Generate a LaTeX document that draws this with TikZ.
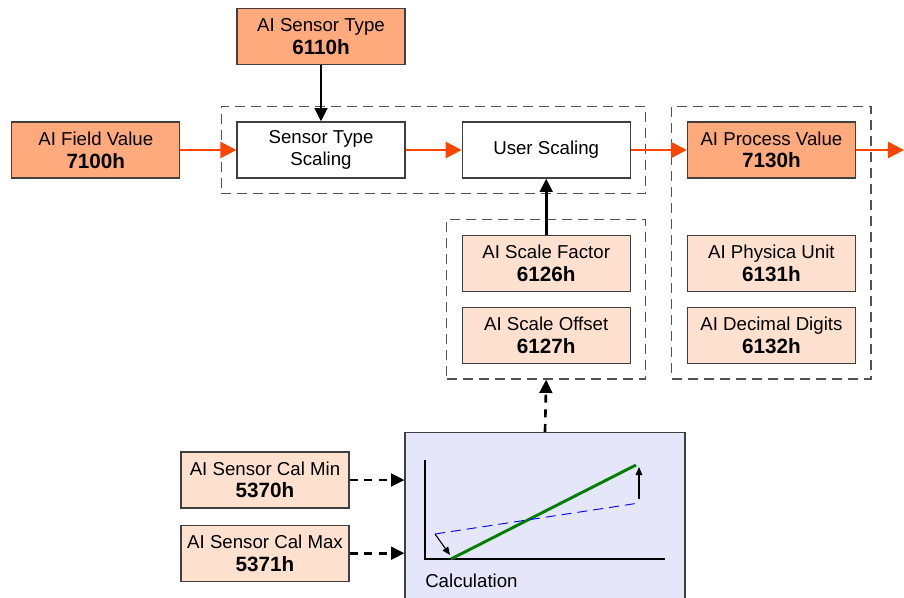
\documentclass[tikz,border=0pt]{standalone}
\usepackage{fontspec}
\setmainfont{Liberation Sans}
\usetikzlibrary{arrows.meta,positioning,fit}
\definecolor{darkfill}{RGB}{255,170,125}
\definecolor{lightfill}{RGB}{253,224,206}
\definecolor{calcfill}{RGB}{230,230,250}
\definecolor{flowred}{RGB}{255,69,0}
\definecolor{edgegray}{RGB}{64,64,64}
\definecolor{linegreen}{RGB}{0,128,0}
\newcommand{\regnum}[1]{{\fontsize{15.5}{17}\selectfont\textbf{#1}}}

\begin{document}
\begin{tikzpicture}[
  x=0.75pt, y=-0.75pt,
  font=\fontsize{14}{17}\selectfont,
  node distance=42pt,
  box/.style={draw=edgegray, line width=0.9pt, align=center, minimum width=126pt, minimum height=42pt, inner sep=0pt},
  objbox/.style={box, fill=darkfill},
  parbox/.style={box, fill=lightfill},
  group/.style={draw=edgegray!90, dash pattern=on 7.5pt off 4.5pt, line width=0.9pt, inner sep=11.25pt},
  flow/.style={-{Triangle[length=12pt,width=12pt]}, flowred, line width=2pt},
  arrow/.style={-{Triangle[length=10pt,width=9.5pt]}, line width=2pt},
  dasharrow/.style={arrow, dash pattern=on 6pt off 5pt}
]
\useasboundingbox (0,0) rectangle (904,597);

% top row
\node[box] (stscaling) at (321,150) {Sensor Type\\Scaling};
\node[objbox, above=of stscaling] (sensortype) {AI Sensor Type\\\regnum{6110h}};
\node[objbox, left=of stscaling] (fieldvalue) {AI Field Value\\\regnum{7100h}};
\node[box, right=of stscaling] (userscaling) {User Scaling};
\node[objbox, right=of userscaling] (processvalue) {AI Process Value\\\regnum{7130h}};
\coordinate (out) at (904,150);

% parameters
\node[parbox, below=of userscaling] (scalefactor) {AI Scale Factor\\\regnum{6126h}};
\node[parbox, below=11.25pt of scalefactor] (scaleoffset) {AI Scale Offset\\\regnum{6127h}};
\node[parbox, below=of processvalue] (physunit) {AI Physica Unit\\\regnum{6131h}};
\node[parbox, below=11.25pt of physunit] (decdigits) {AI Decimal Digits\\\regnum{6132h}};

% groups
\node[group, fit=(stscaling)(userscaling)] (scalegroup) {};
\node[group, fit=(scalefactor)(scaleoffset)] (paramgroup) {};
\node[group, fit=(processvalue)(decdigits)] (outgroup) {};

% calibration
\node[draw=edgegray, line width=0.9pt, fill=calcfill, minimum width=210pt, minimum height=130pt, anchor=north] (calc) at (545,432) {};
\node[anchor=west, inner sep=0pt] (calclabel) at (425,581) {Calculation};
\node[parbox] (calmin) at (265,480) {AI Sensor Cal Min\\\regnum{5370h}};
\node[parbox, below=12pt of calmin] (calmax) {AI Sensor Cal Max\\\regnum{5371h}};

% chart
\draw[line width=2.2pt] (425,460) -- (425,559) -- (665,559);
\draw[linegreen, line width=2.2pt] (451,559) -- (636,465);
\draw[blue, line width=0.7pt, dash pattern=on 7.5pt off 4.5pt] (435,534) -- (639,503);
\draw[-{Triangle[length=6pt,width=5pt]}, line width=0.8pt] (435,534) -- (450,555);
\draw[-{Triangle[length=6pt,width=5pt]}, line width=0.8pt] (639,499) -- (639,467);

% connectors
\draw[flow] (fieldvalue) -- (stscaling);
\draw[flow] (stscaling) -- (userscaling);
\draw[flow] (userscaling) -- (processvalue);
\draw[flow] (processvalue) -- (out);
\draw[arrow] (sensortype) -- (stscaling);
\draw[arrow] (scalefactor) -- (userscaling);
\draw[dasharrow] (calc.north) -- (paramgroup.south);
\draw[dasharrow] (calmin.east) -- (calmin.east -| calc.west);
\draw[dasharrow] (calmax.east) -- (calmax.east -| calc.west);
\end{tikzpicture}
\end{document}
